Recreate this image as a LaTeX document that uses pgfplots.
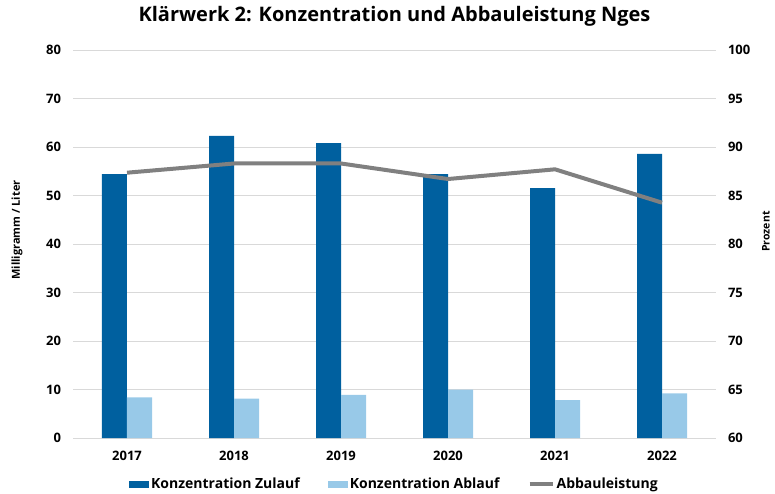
\documentclass[border=0pt]{standalone}
\usepackage{pgfplots}
\pgfplotsset{compat=1.18}
\usepackage{fontspec}
\setmainfont{Open Sans}
\definecolor{darkblue}{HTML}{00609F}
\definecolor{lightblue}{HTML}{98C9E8}
\definecolor{linegray}{HTML}{808080}
\definecolor{gridgray}{HTML}{D9D9D9}
\begin{document}
\begin{tikzpicture}[x=1pt,y=1pt]
\path[use as bounding box] (-73.5,-55) rectangle (701.5,438);
\begin{axis}[
  at={(0pt,0pt)}, anchor=south west, scale only axis,
  width=642pt, height=388pt,
  xmin=-0.5, xmax=5.5, ymin=0, ymax=80,
  ytick={0,10,...,80},
  xtick={0,...,5}, xticklabels={2017,2018,2019,2020,2021,2022},
  axis line style={draw=none},
  tick style={draw=none},
  ymajorgrids, grid style={gridgray, line width=1pt},
  ybar=0pt, bar width=25pt,
  ticklabel style={font=\bfseries\fontsize{13}{15}\selectfont, text=black},
  /pgf/number format/assume math mode=true,
  yticklabel style={xshift=-9pt},
  xticklabel style={yshift=-5pt},
  ylabel={Milligramm / Liter},
  every axis y label/.style={at={(axis description cs:-0.0880,0.536)}, rotate=90, anchor=center, font=\bfseries\fontsize{11}{13}\selectfont},
  title={Klärwerk 2: Konzentration und Abbauleistung Nges},
  title style={at={(axis description cs:0.5,1)}, anchor=center, yshift=28pt, font=\bfseries\fontsize{20}{24}\selectfont},
  legend style={at={(axis description cs:0.5,-0.1186)}, anchor=center, draw=none, fill=none,
    legend columns=3, font=\bfseries\fontsize{14}{16}\selectfont,
    /tikz/every even column/.append style={column sep=26pt},
    nodes={inner xsep=2pt}},
]
\addplot[fill=darkblue, draw=none,
  legend image code/.code={\fill[darkblue] (0pt,-3.5pt) rectangle (20pt,3.5pt);}]
  coordinates {(0,54.4) (1,62.3) (2,60.8) (3,54.4) (4,51.5) (5,58.6)};
\addlegendentry{Konzentration Zulauf}
\addplot[fill=lightblue, draw=none,
  legend image code/.code={\fill[lightblue] (0pt,-3.5pt) rectangle (20pt,3.5pt);}]
  coordinates {(0,8.4) (1,8.1) (2,8.9) (3,10.0) (4,7.8) (5,9.2)};
\addlegendentry{Konzentration Ablauf}
\addlegendimage{legend image code/.code={\draw[linegray, line width=4pt] (0pt,0pt) -- (23pt,0pt);}}
\addlegendentry{Abbauleistung}
\end{axis}
\begin{axis}[
  at={(0pt,0pt)}, anchor=south west, scale only axis,
  width=642pt, height=388pt,
  xmin=-0.5, xmax=5.5, ymin=60, ymax=100,
  ytick={60,65,...,100},
  axis x line=none, axis y line*=right,
  axis line style={draw=none},
  tick style={draw=none},
  ticklabel style={font=\bfseries\fontsize{13}{15}\selectfont, text=black},
  /pgf/number format/assume math mode=true,
  yticklabel style={xshift=9pt},
  ylabel={Prozent},
  every axis y label/.style={at={(axis description cs:1.0787,0.532)}, rotate=90, anchor=center, font=\bfseries\fontsize{10.5}{12}\selectfont},
]
\addplot[linegray, line width=4pt] coordinates {(0,87.35) (1,88.3) (2,88.3) (3,86.7) (4,87.7) (5,84.26)};
\end{axis}
\end{tikzpicture}
\end{document}
